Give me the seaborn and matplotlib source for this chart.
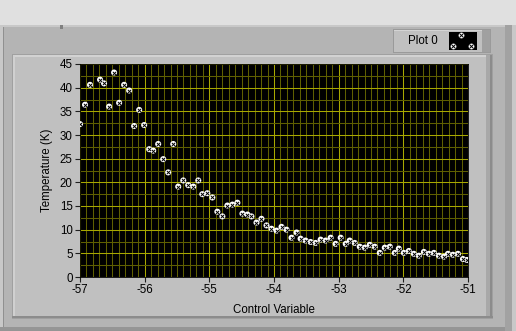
import numpy as np
import pandas as pd
import matplotlib
matplotlib.use("Agg")
import matplotlib.pyplot as plt
import seaborn as sns
from matplotlib.patches import Rectangle
from matplotlib.lines import Line2D
from matplotlib.ticker import MultipleLocator

# ---- data ----
control = [-57.000, -56.922, -56.845, -56.690, -56.628, -56.550, -56.473, -56.395,
           -56.318, -56.240, -56.163, -56.085, -56.008, -55.930, -55.868, -55.791,
           -55.713, -55.636, -55.558, -55.481, -55.403, -55.326, -55.248, -55.171,
           -55.109, -55.031, -54.953, -54.876, -54.798, -54.721, -54.643, -54.566,
           -54.488, -54.411, -54.349, -54.271, -54.194, -54.116, -54.039, -53.961,
           -53.884, -53.806, -53.729, -53.651, -53.589, -53.512, -53.434, -53.357,
           -53.279, -53.202, -53.124, -53.047, -52.969, -52.891, -52.830, -52.752,
           -52.674, -52.597, -52.519, -52.442, -52.364, -52.287, -52.209, -52.132,
           -52.070, -51.992, -51.915, -51.837, -51.760, -51.682, -51.605, -51.527,
           -51.450, -51.372, -51.310, -51.233, -51.155, -51.078, -51.016]
temperature = [32.3, 36.4, 40.6, 41.7, 40.9, 36.0, 43.2, 36.8,
               40.6, 39.4, 31.9, 35.3, 32.1, 27.0, 26.7, 28.1,
               24.9, 22.1, 28.1, 19.1, 20.4, 19.4, 19.1, 20.4,
               17.5, 17.7, 16.8, 13.8, 12.8, 15.1, 15.3, 15.7,
               13.4, 13.2, 12.8, 11.5, 12.3, 10.9, 10.2, 9.8,
               10.6, 10.0, 8.3, 9.4, 8.1, 7.7, 7.4, 7.2,
               7.9, 7.7, 8.3, 7.0, 8.3, 7.0, 7.7, 7.2,
               6.4, 6.2, 6.8, 6.4, 5.1, 6.2, 6.4, 5.1,
               6.0, 5.1, 5.5, 4.9, 4.5, 5.3, 4.9, 5.1,
               4.5, 4.3, 4.9, 4.7, 4.9, 3.8, 3.6]
x_ticks = [-57, -56, -55, -54, -53, -52, -51]
y_ticks = [0, 5, 10, 15, 20, 25, 30, 35, 40, 45]
x_label = "Control Variable"
y_label = "Temperature (K)"
legend_label = "Plot 0"

df = pd.DataFrame({"x": control, "y": temperature})

sns.set_theme(style="dark")
plt.rcParams['font.family'] = ['Liberation Sans', 'DejaVu Sans']

W, H = 516, 331
fig = plt.figure(figsize=(W / 100, H / 100), dpi=100)
fig.patch.set_facecolor('#e0e0e0')


def box(x, y, w, h, color, z=0):
    r = Rectangle((x / W, 1 - (y + h) / H), w / W, h / H, transform=fig.transFigure,
                  facecolor=color, edgecolor='none', zorder=z)
    fig.add_artist(r)
    return r

# outer frame
box(0, 25, 516, 306, '#b4b4b4', -10)
box(0, 25, 516, 2, '#c8c8c8', -9)
box(0, 25, 3, 306, '#c8c8c8', -9)
box(3, 27, 1, 304, '#909090', -9)
box(0, 327, 516, 4, '#959595', -9)
box(505, 25, 11, 306, '#a2a2a2', -9)
box(512, 25, 4, 306, '#c8c8c8', -9)
box(60, 25, 3, 4, '#808080', -9)
# inner panel
box(12, 54, 481, 265, '#a0a0a0', -8)
box(13, 55, 479, 263, '#c0c0c0', -8)
box(13, 55, 479, 2, '#d2d2d2', -7)
box(13, 55, 2, 263, '#d0d0d0', -7)
box(486, 55, 6, 263, '#a8a8a8', -7)
box(490, 55, 2, 263, '#8c8c8c', -7)
box(12, 316, 481, 2, '#8c8c8c', -7)
# legend box
box(393, 29, 98, 24, '#9a9a9a', -6)
box(394, 30, 96, 22, '#c0c0c0', -6)
box(394, 30, 96, 1, '#d4d4d4', -5)
box(482, 30, 8, 22, '#a0a0a0', -5)
box(449, 32, 28, 18, '#000000', -4)
fig.text(408 / W, 1 - 41.5 / H, legend_label, fontsize=8.3, color='black',
         ha='left', va='center')
for (lx, ly) in [(461, 35), (452.5, 46), (471, 46)]:
    fig.add_artist(Line2D([lx / W], [1 - ly / H], transform=fig.transFigure,
                          marker='o', markersize=4.2, markerfacecolor='white',
                          markeredgecolor='none', linestyle='none', zorder=5))
    fig.add_artist(Line2D([lx / W], [1 - ly / H], transform=fig.transFigure,
                          marker='x', markersize=2.3, markeredgecolor='black',
                          markeredgewidth=0.7, linestyle='none', zorder=6))

# plot area
ax = fig.add_axes([80 / W, 1 - 277 / H, 388 / W, 213 / H])
ax.set_facecolor('black')
ax.set_xlim(-57, -51)
ax.set_ylim(0, 45)
ax.xaxis.set_major_locator(MultipleLocator(1))
ax.xaxis.set_minor_locator(MultipleLocator(0.1))
ax.yaxis.set_major_locator(MultipleLocator(5))
ax.yaxis.set_minor_locator(MultipleLocator(2.5))
ax.set_xticks(x_ticks)
ax.set_yticks(y_ticks)
ax.grid(True, which='minor', color='#5f5f00', linewidth=0.75)
ax.grid(True, which='major', color='#a8a800', linewidth=0.75)
ax.set_axisbelow(True)

sns.scatterplot(data=df, x="x", y="y", ax=ax, marker='o', s=19, color='white',
                edgecolor='none', linewidth=0, zorder=3)
sns.scatterplot(data=df, x="x", y="y", ax=ax, marker='x', s=5.5, color='black',
                linewidth=0.7, zorder=4)

for s in ax.spines.values():
    s.set_visible(True)
    s.set_color('#000000')
    s.set_linewidth(0.6)

ax.tick_params(axis='both', which='major', length=3.8, width=0.8, color='#202020',
               labelsize=8.3, labelcolor='black', direction='out', pad=1.5)
ax.tick_params(axis='both', which='minor', length=0)
ax.tick_params(axis='x', bottom=True)
ax.tick_params(axis='y', left=True)
ax.set_xticklabels([str(t) for t in x_ticks])
ax.set_yticklabels([str(t) for t in y_ticks])
ax.set_xlabel(x_label, fontsize=8.3, color='black')
ax.set_ylabel(y_label, fontsize=8.3, color='black')
ax.xaxis.set_label_coords(0.5, -0.125)
ax.yaxis.set_label_coords(-0.07, 0.5)

fig.savefig("out.png", dpi=100, facecolor=fig.get_facecolor())
